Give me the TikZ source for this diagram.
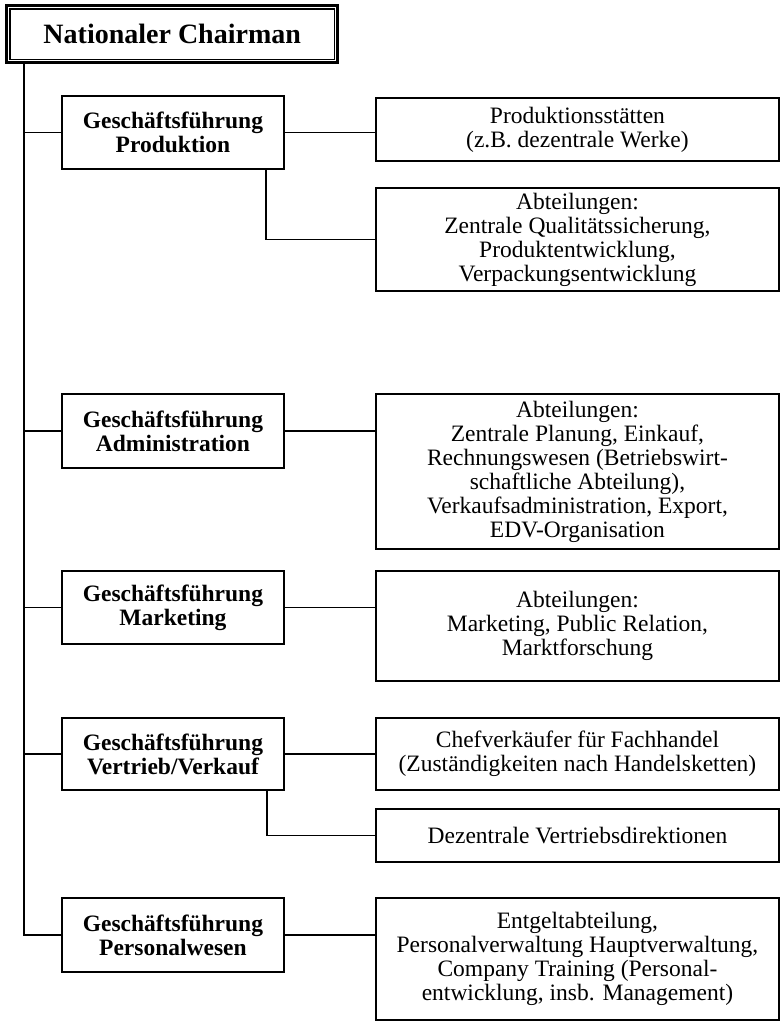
\documentclass[tikz,border=0pt]{standalone}
\usepackage{fontspec}
\setmainfont{Liberation Serif}
\begin{document}
\begin{tikzpicture}[x=1pt,y=-1pt,
  box/.style={draw, line width=1.9pt, inner sep=0pt, align=center, anchor=north west},
  lbox/.style={box, minimum width=222pt, font=\fontsize{23.5}{24}\selectfont\bfseries},
  rbox/.style={box, minimum width=403pt, font=\fontsize{23.5}{24}\selectfont},
  conn/.style={line width=1.9pt}]
\useasboundingbox (0,0) rectangle (782,1021);

% Chairman
\node[box, line width=3.4pt, minimum width=331pt, minimum height=57pt,
      font=\fontsize{28}{30}\selectfont\bfseries] (chair) at (5,4) {Nationaler Chairman};
\draw[line width=1.3pt] ([shift={(5,5)}]chair.north west) rectangle ([shift={(-5,-5)}]chair.south east);
\coordinate (ttop) at (24,61);

% Produktion
\node[lbox, minimum height=73pt] (L1) at (61,95) {Geschäftsführung\\Produktion};
\node[rbox, minimum height=63pt] (R1a) at (375,97) {Produktionsstätten\\(z.B. dezentrale Werke)};
\node[rbox, minimum height=103pt] (R1b) at (375,187) {Abteilungen:\\Zentrale Qualitätssicherung,\\Produktentwicklung,\\Verpackungsentwicklung};

% Administration
\node[lbox, minimum height=74pt] (L2) at (61,393) {Geschäftsführung\\Administration};
\node[rbox, minimum height=155pt] (R2) at (375,393) {Abteilungen:\\Zentrale Planung, Einkauf,\\Rechnungswesen (Betriebswirt-\\schaftliche Abteilung),\\Verkaufsadministration, Export,\\EDV-Organisation};

% Marketing
\node[lbox, minimum height=73pt] (L3) at (61,570) {Geschäftsführung\\Marketing};
\node[rbox, minimum height=110pt] (R3) at (375,570) {Abteilungen:\\Marketing, Public Relation,\\Marktforschung};

% Vertrieb
\node[lbox, minimum height=72pt] (L4) at (61,717) {Geschäftsführung\\Vertrieb/Verkauf};
\node[rbox, minimum height=72pt] (R4a) at (375,717) {Chefverkäufer für Fachhandel\\(Zuständigkeiten nach Handelsketten)};
\node[rbox, minimum height=53pt] (R4b) at (375,808) {Dezentrale Vertriebsdirektionen};

% Personalwesen
\node[lbox, minimum height=74pt] (L5) at (61,897) {Geschäftsführung\\Personalwesen};
\node[rbox, minimum height=122pt] (R5) at (375,897) {Entgeltabteilung,\\Personalverwaltung Hauptverwaltung,\\Company Training (Personal-\\entwicklung, insb. Management)};

% Trunk and branches
\draw[conn] (ttop) |- (L5.west);
\draw[conn] (L1.west -| ttop) -- (L1.west);
\draw[conn] (L2.west -| ttop) -- (L2.west);
\draw[conn] (L3.west -| ttop) -- (L3.west);
\draw[conn] (L4.west -| ttop) -- (L4.west);

% Right connectors
\draw[conn] (L1.east) -- (L1.east -| R1a.west);
\draw[conn] ([xshift=-19pt]L1.south east) |- (R1b.west);
\draw[conn] (L2.east) -- (L2.east -| R2.west);
\draw[conn] (L3.east) -- (L3.east -| R3.west);
\draw[conn] (L4.east) -- (L4.east -| R4a.west);
\draw[conn] ([xshift=-18pt]L4.south east) |- (R4b.west);
\draw[conn] (L5.east) -- (L5.east -| R5.west);
\end{tikzpicture}
\end{document}
